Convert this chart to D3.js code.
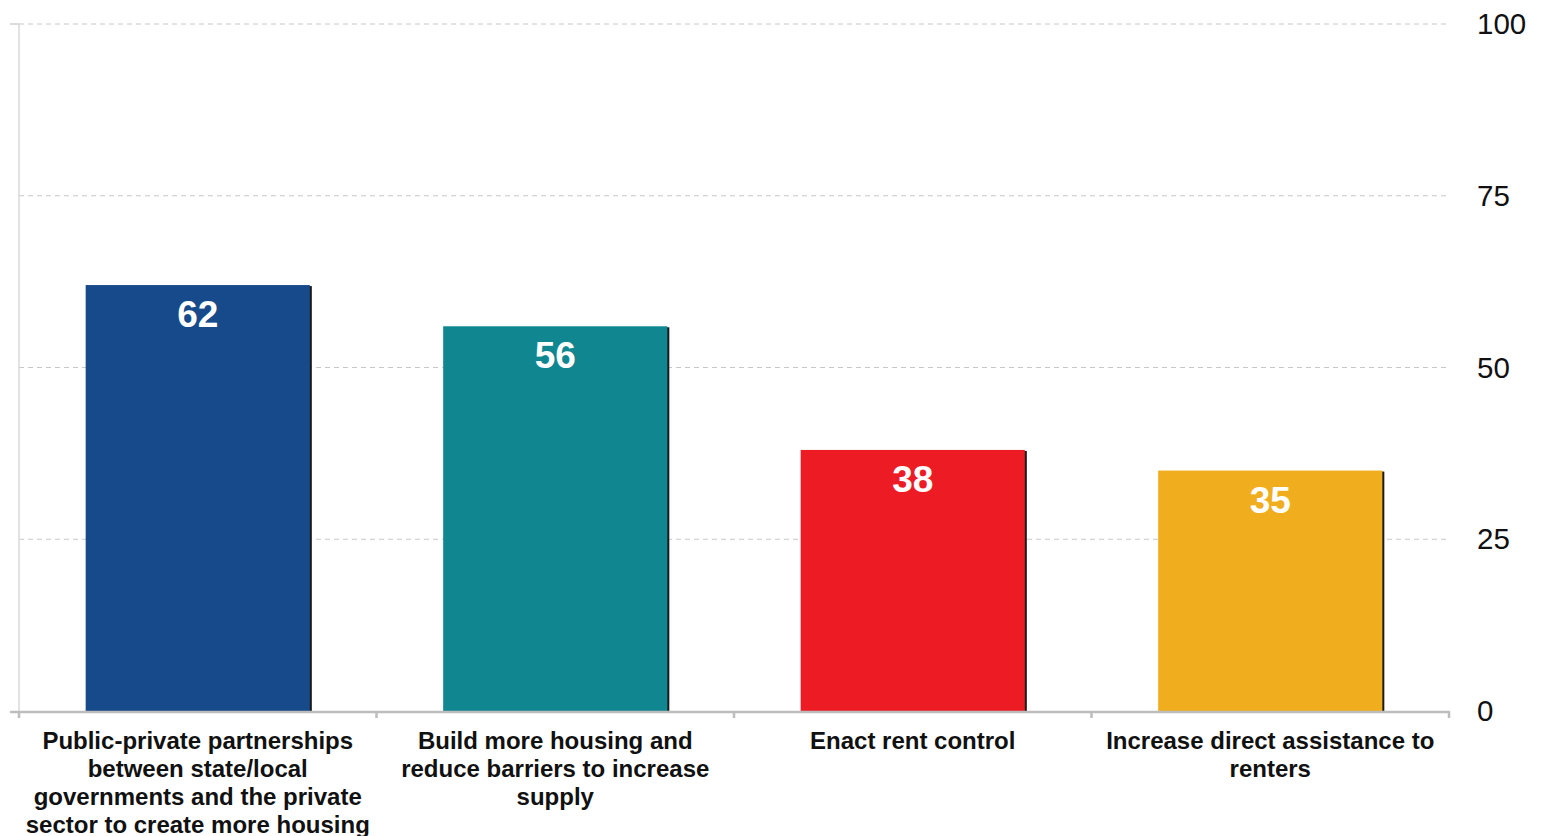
<!DOCTYPE html>
<html><head><meta charset="utf-8">
<script src="https://cdn.jsdelivr.net/npm/d3@7"></script>
<style>body{margin:0;background:#fff}svg{display:block}text{font-family:"Liberation Sans",Arial,sans-serif}</style>
</head><body><svg id="c" width="1542" height="836"></svg>
<script>
const categories = [
  ["Public-private partnerships","between state/local","governments and the private","sector to create more housing"],
  ["Build more housing and","reduce barriers to increase","supply"],
  ["Enact rent control"],
  ["Increase direct assistance to","renters"]
];
const values = [62, 56, 38, 35];
const colors = ["#174a8a", "#0f8690", "#ed1c24", "#f0ae1f"];
const yTicks = [0, 25, 50, 75, 100];

(function () {
const svg = d3.select("#c");
const mLeft = 19, mRight = 1449, mTop = 24, mBottom = 711;
const x = d3.scaleBand().domain(d3.range(values.length)).range([mLeft, mRight]).paddingInner(0.373).paddingOuter(0.1865);
const y = d3.scaleLinear().domain([0, 100]).range([mBottom, mTop]);

// gridlines
svg.append("g").selectAll("line").data(yTicks.filter(d => d > 0)).join("line")
  .attr("x1", mLeft).attr("x2", mRight).attr("y1", d => y(d)).attr("y2", d => y(d))
  .attr("stroke", "#c8c8c8").attr("stroke-width", 1).attr("stroke-dasharray", "5,4");

// left axis line + top tick
svg.append("line").attr("x1", mLeft).attr("x2", mLeft).attr("y1", y(100)).attr("y2", mBottom)
  .attr("stroke", "#d9d9d9").attr("stroke-width", 1.5);
svg.append("line").attr("x1", 10).attr("x2", mLeft).attr("y1", y(100)).attr("y2", y(100))
  .attr("stroke", "#d0d0d0").attr("stroke-width", 1.5);

// y labels on right
svg.append("g").selectAll("text").data(yTicks).join("text")
  .attr("x", 1477).attr("y", d => y(d) + 10).attr("font-size", 29.5).attr("fill", "#111")
  .text(d => d);

// bars with dark shadow
const g = svg.append("g");
g.selectAll("rect.sh").data(values).join("rect").attr("class", "sh")
  .attr("x", (d, i) => x(i) + 2).attr("y", d => y(d) + 1).attr("width", x.bandwidth())
  .attr("height", d => mBottom - y(d) - 1).attr("fill", "#1a1a1a");
g.selectAll("rect.b").data(values).join("rect").attr("class", "b")
  .attr("x", (d, i) => x(i)).attr("y", d => y(d)).attr("width", x.bandwidth())
  .attr("height", d => mBottom - y(d)).attr("fill", (d, i) => colors[i]);

// value labels
g.selectAll("text.v").data(values).join("text").attr("class", "v")
  .attr("x", (d, i) => x(i) + x.bandwidth() / 2).attr("y", d => y(d) + 42)
  .attr("text-anchor", "middle").attr("font-size", 37).attr("font-weight", "bold").attr("fill", "#fff")
  .text(d => d);

// bottom axis
svg.append("line").attr("x1", 10).attr("x2", mRight).attr("y1", mBottom + 1).attr("y2", mBottom + 1)
  .attr("stroke", "#bdbdbd").attr("stroke-width", 2.5);
const tickXs = d3.range(values.length + 1).map(i => mLeft + i * x.step());
svg.append("g").selectAll("line").data(tickXs).join("line")
  .attr("x1", d => d).attr("x2", d => d).attr("y1", mBottom).attr("y2", mBottom + 7)
  .attr("stroke", "#bdbdbd").attr("stroke-width", 2.5);

// category labels
const cl = svg.append("g").selectAll("text").data(categories).join("text")
  .attr("x", (d, i) => x(i) + x.bandwidth() / 2).attr("y", 748.5)
  .attr("text-anchor", "middle").attr("font-size", 24).attr("font-weight", "bold").attr("fill", "#111");
cl.selectAll("tspan").data(d => d).join("tspan")
  .attr("x", function() { return d3.select(this.parentNode).attr("x"); })
  .attr("dy", (d, j) => j === 0 ? 0 : 28).text(d => d);
})();
</script></body></html>
